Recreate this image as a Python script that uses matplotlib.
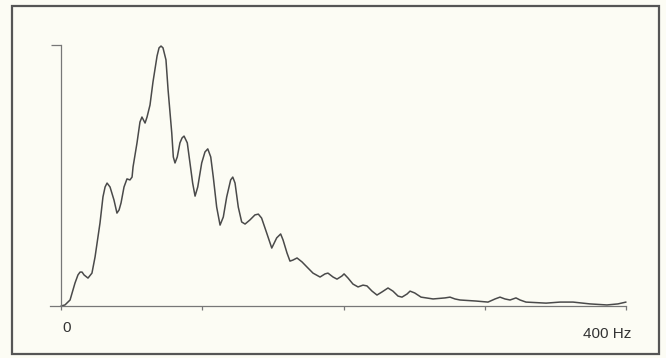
import numpy as np
import matplotlib.pyplot as plt
from matplotlib.patches import Rectangle

# spectrum: frequency (Hz) and relative amplitude
freq = [0, 2.8, 6.4, 9.9, 12.0, 13.5, 14.9, 16.3, 19.1, 21.9, 24.1, 27.6,
        29.7, 31.2, 32.6, 34.7, 37.5, 39.6, 41.1, 42.5, 44.6, 46.7, 48.8,
        50.3, 51.0, 53.8, 55.9, 57.3, 59.5, 60.9, 63.0, 65.1, 68.0, 69.4,
        70.8, 72.2, 74.3, 75.8, 78.4, 79.5, 80.7, 82.3, 84.2, 85.7, 87.1,
        89.4, 91.3, 93.2, 94.9, 96.8, 99.6, 101.9, 103.9, 106.0, 107.8,
        110.2, 112.6, 114.9, 117.3, 120.1, 121.6, 123.2, 125.5, 127.9,
        130.3, 133.8, 137.3, 139.7, 142.0, 145.6, 149.2, 152.7, 155.5,
        157.2, 160.0, 162.1, 164.2, 167.1, 170.6, 174.2, 178.4, 183.4,
        186.9, 189.0, 192.6, 195.4, 198.9, 200.4, 203.2, 206.7, 210.3,
        213.8, 216.6, 220.2, 223.7, 227.3, 231.5, 235.0, 238.6, 241.4,
        245.0, 247.1, 250.4, 254.9, 263.4, 271.9, 275.4, 278.9, 282.5,
        293.8, 302.3, 307.3, 310.8, 314.3, 317.9, 322.1, 325.0, 329.2,
        343.4, 353.3, 362.5, 374.5, 386.5, 394.3, 400]
amp = [0, 0.004, 0.023, 0.088, 0.119, 0.130, 0.130, 0.119, 0.107, 0.126,
       0.188, 0.318, 0.418, 0.456, 0.471, 0.456, 0.406, 0.356, 0.368,
       0.395, 0.456, 0.487, 0.483, 0.494, 0.533, 0.625, 0.705, 0.724,
       0.701, 0.724, 0.770, 0.858, 0.958, 0.989, 0.996, 0.989, 0.943,
       0.828, 0.663, 0.571, 0.548, 0.571, 0.625, 0.644, 0.651, 0.625,
       0.548, 0.471, 0.421, 0.456, 0.548, 0.590, 0.602, 0.571, 0.494,
       0.379, 0.310, 0.341, 0.418, 0.483, 0.494, 0.471, 0.379, 0.322,
       0.314, 0.330, 0.349, 0.352, 0.337, 0.280, 0.222, 0.261, 0.276,
       0.253, 0.203, 0.172, 0.176, 0.184, 0.169, 0.149, 0.126, 0.111,
       0.123, 0.126, 0.111, 0.103, 0.115, 0.123, 0.107, 0.084, 0.073,
       0.080, 0.077, 0.057, 0.042, 0.054, 0.069, 0.057, 0.038, 0.034,
       0.046, 0.057, 0.050, 0.034, 0.027, 0.031, 0.034, 0.027, 0.023,
       0.019, 0.015, 0.027, 0.034, 0.027, 0.023, 0.031, 0.023, 0.015,
       0.011, 0.015, 0.015, 0.008, 0.004, 0.008, 0.015]

x_ticks = [0, 100, 200, 300, 400]

bg = "#fcfcf4"
fig = plt.figure(figsize=(6.66, 3.58), dpi=100, facecolor=bg)
W, H = 666, 358

# outer frame
fig.patches.append(Rectangle((12 / W, 1 - 354 / H), 647 / W, 348 / H,
                             transform=fig.transFigure, fill=False,
                             edgecolor="#555555", linewidth=1.6))

ax = fig.add_axes([50 / W, 1 - 306 / H, 576 / W, 261 / H])
ax.set_facecolor("none")
ax.set_xlim(-7.8, 400)
ax.set_ylim(0, 1)

ax.plot(freq, amp, color="#4a4a4a", linewidth=1.1, solid_joinstyle="round",
        solid_capstyle="round", clip_on=False)

for s in ["top", "right"]:
    ax.spines[s].set_visible(False)
ax.spines["left"].set_position(("data", 0))
ax.spines["left"].set_bounds(0, 1)
for s in ["left", "bottom"]:
    ax.spines[s].set_color("#777777")
    ax.spines[s].set_linewidth(0.9)

ax.set_xticks(x_ticks)
ax.set_xticklabels([])
ax.tick_params(axis="x", direction="out", length=3, width=0.9, color="#777777")
ax.set_yticks([1])
ax.set_yticklabels([])
ax.tick_params(axis="y", direction="out", length=7.5, width=0.9, color="#777777")

ax.text(4, -0.085, "0", ha="center", va="center", fontsize=11,
        family="Liberation Sans", color="#333333")
ax.text(386.5, -0.108, "400 Hz", ha="center", va="center", fontsize=11,
        family="Liberation Sans", color="#333333")

fig.savefig("out.png", dpi=100, facecolor=bg)
